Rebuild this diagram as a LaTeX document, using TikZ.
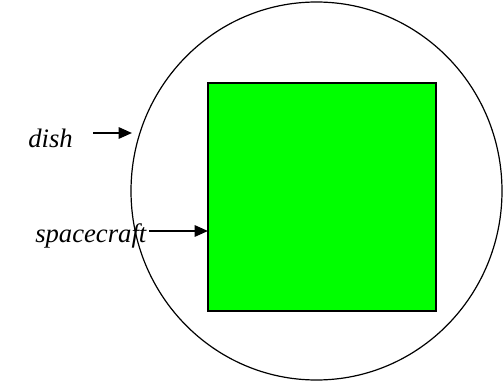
\documentclass[tikz,border=0pt]{standalone}
\usepackage{fontspec}
\setmainfont{Liberation Serif}
\usetikzlibrary{arrows.meta,shapes.geometric}
\begin{document}
\begin{tikzpicture}[x=0.75pt,y=-0.75pt,
  lbl/.style={inner sep=0pt,anchor=base west,font=\fontsize{20}{24}\selectfont\itshape},
  arr/.style={line width=1.5pt,-{Triangle[length=10pt,width=8.5pt]}},
  outline/.style={draw=black,line width=0.9pt}]
\useasboundingbox (0,0) rectangle (503,381);
\node[outline,ellipse,minimum width=371*0.75pt,minimum height=378*0.75pt,inner sep=0pt] (dishshape) at (316.5,191) {};
\node[outline,fill={rgb,255:red,0;green,255;blue,0},minimum width=228*0.75pt,minimum height=228*0.75pt,inner sep=0pt] (craft) at (322,197) {};
\node[lbl] (dishlbl) at (28,147) {dish};
\node[lbl] (sclbl) at (35,242) {spacecraft};
\coordinate (d1) at (93,133);
\coordinate (d2) at (132,133);
\coordinate (s1) at (149,231);
\coordinate (s2) at (208,231);
\draw[arr] (d1) -- (d2);
\draw[arr] (s1) -- (s2);
\end{tikzpicture}
\end{document}
